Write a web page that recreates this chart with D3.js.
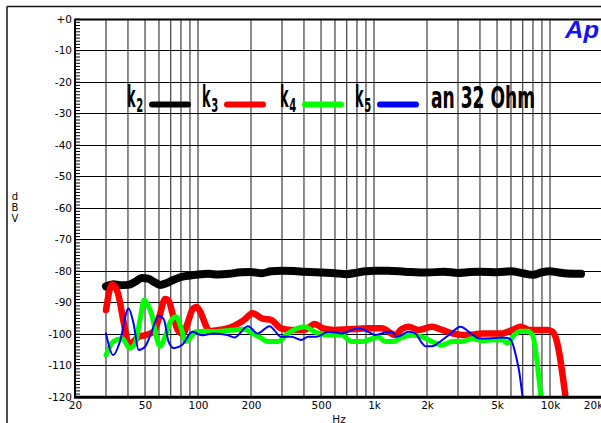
<!DOCTYPE html>
<html>
<head>
<meta charset="utf-8">
<script src="https://cdn.jsdelivr.net/npm/d3@7"></script>
<style>
body { margin: 0; background: #fff; }
svg { display: block; }
</style>
</head>
<body>
<div id="container"></div>
<script>
var width = 601,
    height = 423;

// harmonic levels, [Hz, dBV]
var k2 = [[30,-85],[33,-84.3],[36,-84.6],[40,-84.5],[44,-83.5],[48,-82.3],[52,-82.5],[56,-83.5],[61,-84.5],[66,-84],[72,-83],[80,-82],[90,-81.5],[100,-81.2],[115,-81],[130,-81.2],[150,-81],[175,-80.5],[200,-80.4],[230,-80.8],[260,-80.2],[300,-80],[350,-80.1],[400,-80.3],[500,-80.6],[600,-80.8],[700,-81.1],[800,-80.6],[900,-80.2],[1000,-80],[1200,-80],[1500,-80.3],[2000,-80.6],[2500,-80.3],[3000,-80.7],[3500,-80.4],[4000,-80.3],[5000,-80.5],[6000,-80.2],[7000,-80.8],[8000,-81.3],[9000,-80.5],[10000,-80.2],[11000,-80.5],[12500,-80.9],[15000,-81]];

var k3 = [[30,-92.5],[32.5,-84.3],[35,-87],[38,-97],[40.5,-103.5],[43,-102.5],[46,-101],[50,-100.5],[56,-99.4],[60,-95],[65,-89],[68,-89.5],[72,-94],[77,-99],[82,-100],[88,-96],[93,-92.3],[98,-91.5],[104,-93.5],[110,-97],[116,-99.2],[125,-99],[147,-98.3],[160,-97.5],[183,-95.6],[204,-93.5],[233,-95.2],[260,-95.6],[296,-98.3],[338,-98.8],[403,-98.8],[460,-96.9],[513,-98.3],[598,-98.8],[714,-98.6],[929,-98.3],[1107,-98.3],[1318,-100.4],[1439,-98.5],[1572,-97.8],[1794,-98.8],[2136,-97.8],[2437,-98.8],[2781,-99.9],[3170,-100.4],[3616,-100.3],[4125,-99.9],[5367,-99.9],[6118,-98.8],[6826,-97.8],[7623,-98.8],[8700,-98.8],[9700,-98.8],[10360,-99.4],[11000,-103],[11315,-106.5],[11820,-113.6],[12250,-120]];

var k4 = [[30,-106.8],[33,-102.5],[37,-101.5],[41,-104.6],[44,-103],[47,-95],[49.5,-89.3],[52,-91],[55,-94.6],[58,-101],[61,-104],[65,-101],[70,-96],[75,-94.6],[80,-98],[85,-102.5],[91,-101],[97,-99.4],[110,-99.2],[121,-99.4],[150,-99],[183,-98.6],[204,-99.9],[223,-101],[249,-102.5],[284,-102.5],[324,-99.9],[403,-97.8],[460,-99.4],[549,-100.4],[654,-100.4],[746,-102.5],[851,-102.5],[929,-102],[1059,-101],[1156,-102.5],[1291,-102.5],[1439,-101.2],[1642,-100.5],[1874,-101],[2136,-102.5],[2437,-103.6],[2781,-102.5],[3170,-102.5],[3616,-101.5],[4125,-102.2],[4704,-102],[5367,-102],[5729,-103],[6257,-100.4],[6826,-99.2],[7454,-99.2],[7962,-100.5],[8315,-106],[8600,-113],[8880,-120]];

var k5 = [[30,-99.9],[33,-106.8],[36,-102.5],[40.3,-92],[43,-96.7],[46,-105.2],[50,-104.1],[54,-100],[59.8,-94.3],[64,-95.5],[68,-102.5],[73,-104.6],[81,-103.6],[93,-99.4],[106,-100.5],[123,-99.9],[147,-100.4],[161,-101.2],[192,-97.6],[218,-99.9],[255,-97.6],[297,-101],[339,-101],[386,-102],[422,-101],[470,-101],[549,-99.4],[654,-99.9],[815,-98.3],[929,-99.4],[1013,-100.4],[1156,-99.6],[1262,-99.4],[1348,-101],[1572,-99.4],[1715,-99.9],[1874,-103],[1956,-104],[2136,-104],[2334,-102.8],[2662,-100.4],[3100,-97.8],[3462,-99.4],[3950,-101.5],[4506,-101.5],[5367,-101.2],[5859,-101.5],[6118,-103],[6400,-107],[6683,-112],[6980,-120]];

var yTicks = d3.range(-120, 1, 10);
var yMinor = d3.range(-120, 1, 1);
var xTicks = [20, 50, 100, 200, 500, 1000, 2000, 5000, 10000, 20000];
var xTickLabels = ["20", "50", "100", "200", "500", "1k", "2k", "5k", "10k", "20k"];
var gridFreqs = [30, 40, 50, 60, 70, 80, 90, 100, 200, 300, 400, 500, 600, 700, 800, 900,
                 1000, 2000, 3000, 4000, 5000, 6000, 7000, 8000, 9000, 10000];
var seriesNames = ["2", "3", "4", "5"];
var seriesColors = ["#000000", "#ff0000", "#00ff00", "#0000ff"];
var legendNote = "an 32 Ohm";

var svg = d3.select("#container").append("svg")
    .attr("width", width)
    .attr("height", height);

var pLeft = 75, pRight = 603, pTop = 18.7, pBottom = 396.7;

var x = d3.scaleLog().domain([20, 20000]).range([pLeft, pRight]);
var y = d3.scaleLinear().domain([-120, 0]).range([pBottom, pTop]);

// outer frame
svg.append("line").attr("x1", 7).attr("x2", 7).attr("y1", 6.5).attr("y2", height)
    .attr("stroke", "#111").attr("stroke-width", 1.5);
svg.append("line").attr("x1", 7).attr("x2", width).attr("y1", 6.5).attr("y2", 6.5)
    .attr("stroke", "#111").attr("stroke-width", 1.5);

// grid
svg.selectAll(".vgrid")
    .data(gridFreqs)
    .enter().append("line")
    .attr("class", "vgrid")
    .attr("x1", d => x(d)).attr("x2", d => x(d))
    .attr("y1", pTop).attr("y2", pBottom)
    .attr("stroke", "#1a1a1a").attr("stroke-width", 1);

svg.selectAll(".hgrid")
    .data(yTicks)
    .enter().append("line")
    .attr("class", "hgrid")
    .attr("x1", pLeft).attr("x2", width)
    .attr("y1", d => Math.round(y(d)) + 0.5).attr("y2", d => Math.round(y(d)) + 0.5)
    .attr("stroke", "#000").attr("stroke-width", d => d === 0 ? 1.8 : 1);

// y axis: minor comb + labels
var minor = svg.append("g")
    .attr("transform", "translate(" + pLeft + ",0)")
    .call(d3.axisRight(y).tickValues(yMinor).tickSize(5).tickSizeOuter(0).tickFormat(""));
minor.select(".domain").remove();
minor.selectAll("line").attr("stroke", "#000").attr("stroke-width", 1);

var yLab = svg.append("g")
    .attr("transform", "translate(" + pLeft + ",0)")
    .call(d3.axisLeft(y).tickValues(yTicks).tickSize(0).tickPadding(3)
        .tickFormat(d => d === 0 ? "+0" : d));
yLab.select(".domain").remove();
yLab.selectAll("text")
    .attr("font-family", "DejaVu Sans, sans-serif")
    .attr("font-size", 10.5)
    .attr("fill", "#000");

svg.append("line").attr("x1", pLeft).attr("x2", pLeft).attr("y1", pTop).attr("y2", pBottom)
    .attr("stroke", "#000").attr("stroke-width", 2);

// x axis labels
var xLab = svg.append("g")
    .attr("transform", "translate(0," + pBottom + ")")
    .call(d3.axisBottom(x).tickValues(xTicks).tickSize(0).tickPadding(5)
        .tickFormat((d, i) => xTickLabels[i]));
xLab.select(".domain").remove();
xLab.selectAll("text")
    .attr("font-family", "DejaVu Sans, sans-serif")
    .attr("font-size", 10.5)
    .attr("fill", "#000");
xLab.selectAll("text").filter(d => d === 20000).attr("dx", -10);

svg.append("text")
    .attr("x", 339).attr("y", 423)
    .attr("text-anchor", "middle")
    .attr("font-family", "DejaVu Sans, sans-serif")
    .attr("font-size", 10.5)
    .text("Hz");

svg.selectAll(".ylabel")
    .data(["d", "B", "V"])
    .enter().append("text")
    .attr("class", "ylabel")
    .attr("x", 15)
    .attr("y", (d, i) => 200 + i * 11)
    .attr("text-anchor", "middle")
    .attr("font-family", "DejaVu Sans, sans-serif")
    .attr("font-size", 10)
    .text(d => d);

// curves
svg.append("clipPath").attr("id", "plotclip")
    .append("rect")
    .attr("x", pLeft).attr("y", pTop)
    .attr("width", pRight - pLeft).attr("height", pBottom - pTop);

var line = d3.line()
    .x(d => x(d[0]))
    .y(d => y(d[1]))
    .curve(d3.curveMonotoneX);

var series = [k2, k3, k4, k5];
var widths = [8, 6.5, 5, 2];
var curves = svg.append("g").attr("clip-path", "url(#plotclip)");
series.forEach((s, i) => {
    curves.append("path")
        .attr("d", line(s))
        .attr("fill", "none")
        .attr("stroke", seriesColors[i])
        .attr("stroke-width", widths[i])
        .attr("stroke-linejoin", "round")
        .attr("stroke-linecap", "round");
});

svg.append("line").attr("x1", pLeft - 1).attr("x2", width).attr("y1", pBottom + 0.5).attr("y2", pBottom + 0.5)
    .attr("stroke", "#000").attr("stroke-width", 3);

// legend
var legX = [127, 202, 280, 355];
var legFont = "Liberation Sans Narrow, Arial Narrow, DejaVu Sans Condensed, sans-serif";
var leg = svg.selectAll(".leg")
    .data(seriesNames)
    .enter().append("g")
    .attr("class", "leg")
    .attr("transform", (d, i) => "translate(" + legX[i] + ",0)");
leg.append("text")
    .attr("x", 0).attr("y", 107)
    .attr("font-family", legFont).attr("font-weight", "bold")
    .attr("font-size", 31)
    .attr("textLength", 8.5).attr("lengthAdjust", "spacingAndGlyphs")
    .text("k");
leg.append("text")
    .attr("x", 9.3).attr("y", 112.3)
    .attr("font-family", legFont).attr("font-weight", "bold")
    .attr("font-size", 20)
    .attr("textLength", 7).attr("lengthAdjust", "spacingAndGlyphs")
    .text(d => d);
leg.append("line")
    .attr("x1", 25).attr("x2", 61)
    .attr("y1", 104.5).attr("y2", 104.5)
    .attr("stroke", (d, i) => seriesColors[i])
    .attr("stroke-width", 6)
    .attr("stroke-linecap", "round");

svg.append("text")
    .attr("x", 431).attr("y", 108.3)
    .attr("font-family", legFont).attr("font-weight", "bold")
    .attr("font-size", 30)
    .attr("textLength", 104).attr("lengthAdjust", "spacingAndGlyphs")
    .text(legendNote);

// logo
svg.append("text")
    .attr("x", 565).attr("y", 37.5)
    .attr("font-family", "Liberation Sans, Arial, sans-serif")
    .attr("font-weight", "bold").attr("font-style", "italic")
    .attr("font-size", 23)
    .attr("textLength", 34).attr("lengthAdjust", "spacingAndGlyphs")
    .attr("fill", "#1414ee")
    .text("Ap");
</script>
</body>
</html>
